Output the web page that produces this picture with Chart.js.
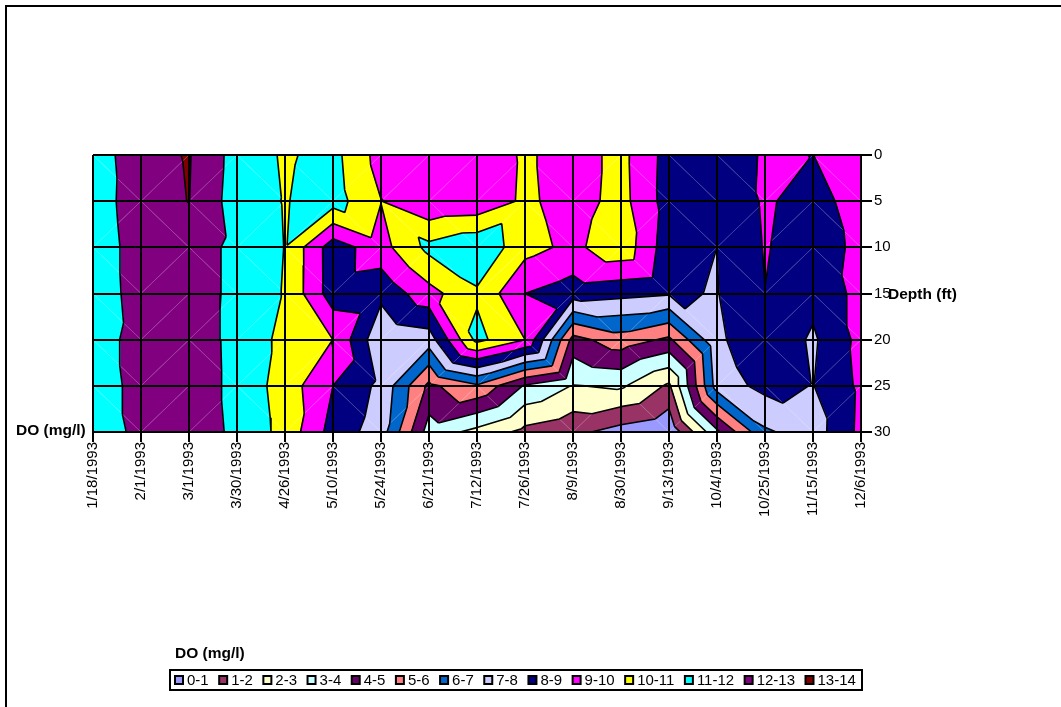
<!DOCTYPE html>
<html>
<head>
<meta charset="utf-8">
<style>html,body{margin:0;padding:0;background:#fff}canvas{display:block}</style>
<script src="https://cdn.jsdelivr.net/npm/chart.js@4/dist/chart.umd.min.js"></script>
</head>
<body>
<canvas id="c" width="1061" height="707"></canvas>
<script>
const dates = ['1/18/1993','2/1/1993','3/1/1993','3/30/1993','4/26/1993','5/10/1993','5/24/1993','6/21/1993','7/12/1993','7/26/1993','8/9/1993','8/30/1993','9/13/1993','10/4/1993','10/25/1993','11/15/1993','12/6/1993'];
const depths = [0,5,10,15,20,25,30];
const bands = ['0-1','1-2','2-3','3-4','4-5','5-6','6-7','7-8','8-9','9-10','10-11','11-12','12-13','13-14'];
const bandColors = ['#9999FF','#993366','#FFFFCC','#CCFFFF','#660066','#FF8080','#0066CC','#CCCCFF','#000080','#FF00FF','#FFFF00','#00FFFF','#800080','#800000'];
const doAt0ft  = [11.4,12.7,13.06,11.61,10.88,11.32,9.6,9.5,9.3,10.15,9.55,10.3,8.6,8.45,9.1,8.99,9.5];
const doAt5ft  = [11.44,12.6,13.02,11.52,10.95,11.45,10.02,9.1,9.2,10.2,9.55,10.35,8.55,8.1,9.13,8.6,9.47];
const doAt10ft = [11.36,12.5,12.6,11.7,10.98,8.45,9.62,11.28,11.85,10.35,9.75,10.7,8.4,8.0,9.06,8.55,9.22];
const doAt15ft = [11.3,12.5,12.6,11.7,10.94,8.47,8.25,9.64,10.85,9.0,8.5,8.3,8.1,7.96,8.99,8.3,9.3];
const doAt20ft = [11.5,12.4,12.55,11.72,10.72,9.99,7.2,7.5,11.3,10.0,4.64,5.55,4.8,7.8,8.8,7.85,9.3];
const doAt25ft = [11.37,12.4,12.55,11.74,10.55,9.0,7.75,4.75,5.85,3.9,2.95,3.15,1.83,7.45,8.3,7.97,9.2];
const doAt30ft = [11.1,12.4,12.55,11.8,10.67,8.6,7.5,3.55,2.7,1.7,1.25,0.6,0.15,3.8,6.85,7.5,9.25];
const grid = [doAt0ft,doAt5ft,doAt10ft,doAt15ft,doAt20ft,doAt25ft,doAt30ft];
const cellDiagonals = [
  '\\//\\\\////\\/\\\\\\/\\',
  '/\\\\//\\\\\\/\\\\/\\//\\',
  '\\/\\\\\\//\\/\\/\\/\\/\\',
  '\\///\\//\\\\/\\/\\\\/\\',
  '\\/\\//\\///\\/\\//\\/',
  '\\//\\/\\//\\\\/\\/\\\\/'
];

const gap = {x:null,y:null};
const bandPts = bands.map(()=>[]);
const contourPts = [];
const seamPts = [];
function clip(poly, level, keepAbove){
  const out=[];
  for(let i=0;i<poly.length;i++){
    const a=poly[i], b=poly[(i+1)%poly.length];
    const ia=keepAbove? a.v>=level : a.v<=level;
    const ib=keepAbove? b.v>=level : b.v<=level;
    if(ia) out.push(a);
    if(ia!==ib){
      const t=(level-a.v)/(b.v-a.v);
      out.push({x:a.x+(b.x-a.x)*t,y:a.y+(b.y-a.y)*t,v:level});
    }
  }
  return out;
}
function addTriangle(tri){
  bands.forEach((_,k)=>{
    let p=clip(tri,k,true);
    if(p.length) p=clip(p,k+1,false);
    if(p.length>=3){
      p.forEach(q=>bandPts[k].push({x:q.x,y:q.y}));
      bandPts[k].push(gap);
    }
  });
  for(let L=1;L<=13;L++){
    const hits=[];
    for(let i=0;i<3;i++){
      const a=tri[i],b=tri[(i+1)%3];
      if((a.v<L)!==(b.v<L)){
        const t=(L-a.v)/(b.v-a.v);
        hits.push({x:a.x+(b.x-a.x)*t,y:a.y+(b.y-a.y)*t});
      }
    }
    if(hits.length===2) contourPts.push(hits[0],hits[1],gap);
  }
}
for(let r=0;r<depths.length-1;r++){
  for(let c=0;c<dates.length-1;c++){
    const tl={x:c,y:depths[r],v:grid[r][c]};
    const tr={x:c+1,y:depths[r],v:grid[r][c+1]};
    const br={x:c+1,y:depths[r+1],v:grid[r+1][c+1]};
    const bl={x:c,y:depths[r+1],v:grid[r+1][c]};
    if(cellDiagonals[r][c]==='\\'){
      addTriangle([tl,tr,br]);addTriangle([tl,br,bl]);
      seamPts.push({x:tl.x,y:tl.y},{x:br.x,y:br.y},gap);
    }else{
      addTriangle([tl,tr,bl]);addTriangle([tr,br,bl]);
      seamPts.push({x:tr.x,y:tr.y},{x:bl.x,y:bl.y},gap);
    }
  }
}
const FONT='"Liberation Sans", Arial, sans-serif';
const datasets = bands.map((b,k)=>({
  label:b,data:bandPts[k],showLine:true,fill:'shape',
  backgroundColor:bandColors[k],borderColor:bandColors[k],borderWidth:1,
  pointRadius:0,pointHoverRadius:0,spanGaps:false,tension:0,order:20+k
}));
datasets.push({label:'seams',data:seamPts,showLine:true,fill:false,borderColor:'rgba(255,255,255,0.25)',borderWidth:1,pointRadius:0,spanGaps:false,order:2});
datasets.push({label:'contours',data:contourPts,showLine:true,fill:false,borderColor:'#000',borderWidth:1.6,pointRadius:0,spanGaps:false,order:1});

const decor={
  id:'decor',
  afterDraw(chart){
    const g=chart.ctx;
    g.save();
    g.strokeStyle='#000';g.lineWidth=2;
    g.beginPath();g.moveTo(6,707);g.lineTo(6,6);g.lineTo(1061,6);g.stroke();
    g.strokeRect(170,670,692,20);
    g.fillStyle='#000';g.font='bold 15.5px '+FONT;g.textBaseline='middle';g.textAlign='left';
    g.fillText('DO (mg/l)',175,654);
    g.fillText('Depth (ft)',888,295);
    g.fillText('DO (mg/l)',16,431);
    g.font='15px '+FONT;
    let x=175;
    bands.forEach((b,k)=>{
      g.fillStyle=bandColors[k];g.fillRect(x,676,8,8);
      g.strokeStyle='#000';g.lineWidth=2;g.strokeRect(x,676,8,8);
      g.fillStyle='#000';g.fillText(b,x+12,680.5);
      x+=12+g.measureText(b).width+10.5;
    });
    g.restore();
  }
};
new Chart(document.getElementById('c'),{
  type:'scatter',
  data:{datasets},
  plugins:[decor],
  options:{
    responsive:false,animation:false,devicePixelRatio:1,
    layout:{padding:{left:93,top:155,right:10,bottom:168}},
    plugins:{tooltip:{enabled:false},legend:{display:false}},
    scales:{
      x:{
        type:'linear',min:0,max:dates.length-1,position:'bottom',
        afterFit(s){s.height=107;},
        grid:{color:'#000',lineWidth:2,z:1,drawTicks:true,tickLength:10,tickColor:'#000',tickWidth:2},
        border:{color:'#000',width:2,z:1},
        ticks:{stepSize:1,autoSkip:false,maxRotation:90,minRotation:90,padding:0,color:'#000',font:{family:FONT,size:15},
          callback:v=>dates[v]}
      },
      y:{
        type:'linear',reverse:true,min:depths[0],max:depths[depths.length-1],position:'right',
        afterFit(s){s.width=190;},
        grid:{color:'#000',lineWidth:2,z:1,drawTicks:true,tickLength:11,tickColor:'#000',tickWidth:2},
        border:{color:'#000',width:2,z:1},
        ticks:{stepSize:5,padding:2,color:'#000',font:{family:FONT,size:15}}
      }
    }
  }
});
</script>
</body>
</html>
